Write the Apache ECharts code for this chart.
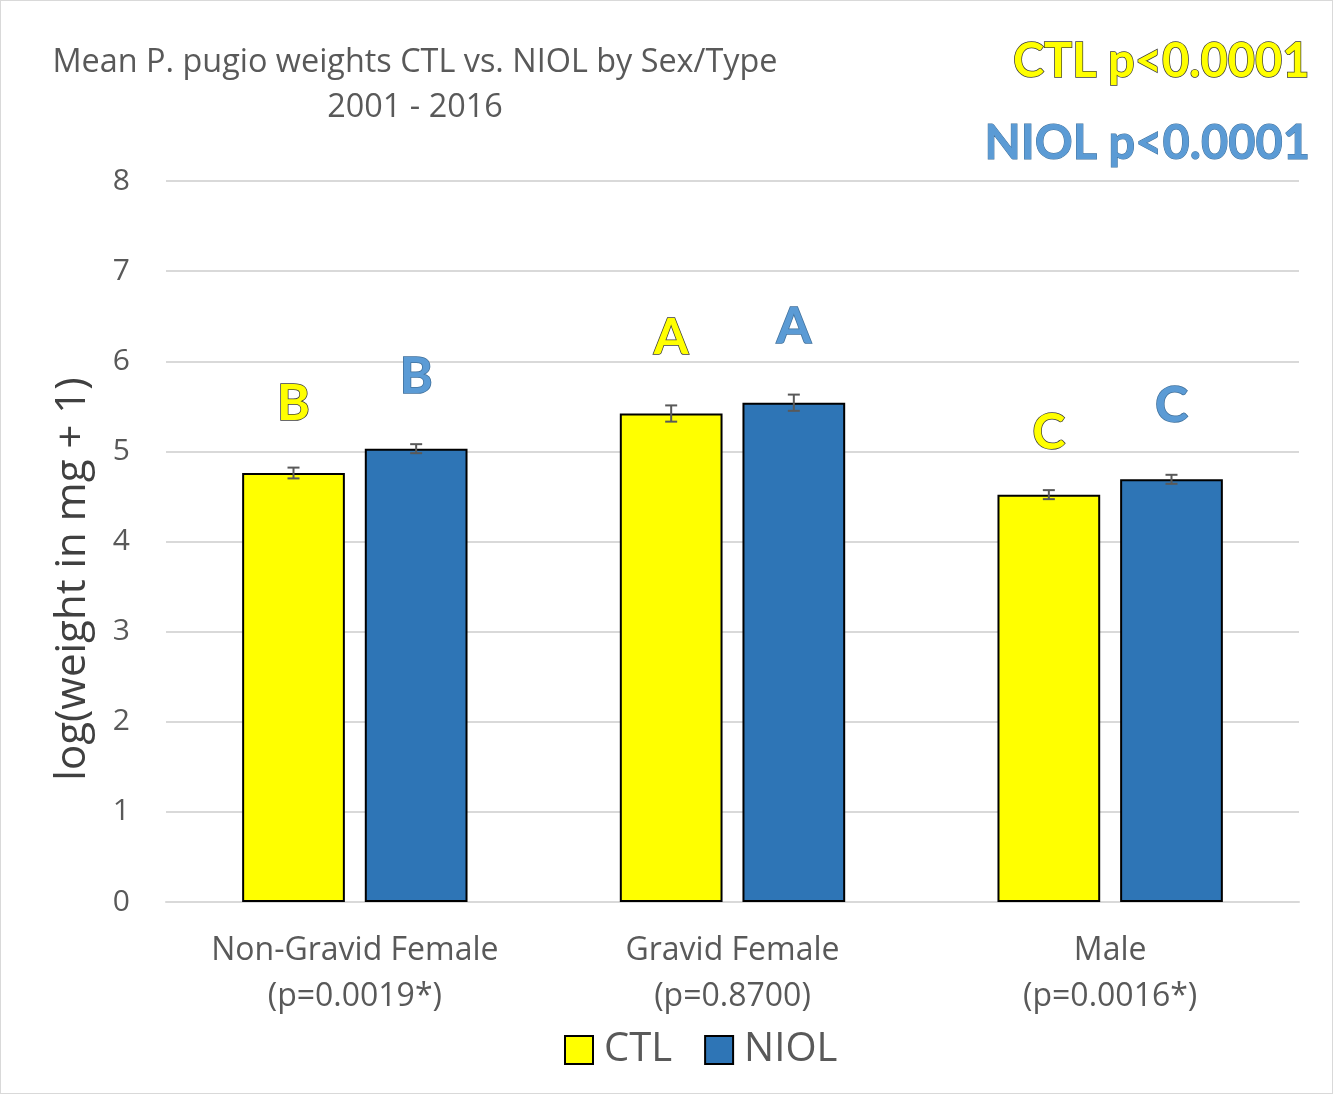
<!DOCTYPE html>
<html><head><meta charset="utf-8">
<script src="https://cdn.jsdelivr.net/npm/echarts@6/dist/echarts.min.js"></script>
<style>html,body{margin:0;padding:0;background:#fff}#c{width:1331px;height:1092px;border:1px solid #d9d9d9}</style>
</head><body><div id="c"></div>
<script>
const categories = ['Non-Gravid Female\n(p=0.0019*)', 'Gravid Female\n(p=0.8700)', 'Male\n(p=0.0016*)'];
const ctlValues = [4.76, 5.42, 4.52];
const niolValues = [5.03, 5.54, 4.69];
const ctlErr = [0.06, 0.09, 0.05];
const niolErr = [0.05, 0.09, 0.05];
const ctlLetters = ['B', 'A', 'C'];
const niolLetters = ['B', 'A', 'C'];
const ctlLetterY = [5.53, 6.26, 5.21];
const niolLetterY = [5.83, 6.38, 5.50];
const yTicks = [0, 1, 2, 3, 4, 5, 6, 7, 8];

const BAR_W = 0.272, GAP = 0.194;
function barCenter(api, cat, side) {
  const band = api.size([1, 0])[0];
  const w = band * BAR_W, g = w * GAP;
  const cx = api.coord([cat, 0])[0];
  return cx + side * (g / 2 + w / 2);
}
function errSeries(vals, errs, side) {
  return {
    type: 'custom', z: 5,
    data: vals.map((v, i) => [i, v, errs[i]]),
    renderItem: function (params, api) {
      const cat = api.value(0), v = api.value(1), e = api.value(2);
      const x = barCenter(api, cat, side);
      const y1 = api.coord([cat, v + e])[1], y2 = api.coord([cat, v - e])[1];
      const st = { stroke: '#595959', lineWidth: 2 };
      return { type: 'group', children: [
        { type: 'line', shape: { x1: x, y1: y1, x2: x, y2: y2 }, style: st },
        { type: 'line', shape: { x1: x - 6, y1: y1, x2: x + 6, y2: y1 }, style: st },
        { type: 'line', shape: { x1: x - 6, y1: y2, x2: x + 6, y2: y2 }, style: st }
      ] };
    }
  };
}
function letterSeries(letters, ys, side, fill, stroke) {
  return {
    type: 'custom', z: 6,
    data: ys.map((y, i) => [i, y, letters[i]]),
    renderItem: function (params, api) {
      const cat = api.value(0), y = api.value(1);
      const x = barCenter(api, cat, side);
      const py = api.coord([cat, y])[1];
      return { type: 'text', x: x, y: py, style: {
        text: letters[params.dataIndex], fill: fill, stroke: stroke, lineWidth: 1.5,
        font: 'bold 50px Lato, "Open Sans", sans-serif', align: 'center', verticalAlign: 'middle'
      } };
    }
  };
}

const chart = echarts.init(document.getElementById('c'));
chart.setOption({
  animation: false,
  title: [{
    text: 'Mean P. pugio weights CTL vs. NIOL by Sex/Type\n2001 - 2016',
    left: 409, top: 34, textAlign: 'center',
    textStyle: { fontFamily: '"Open Sans", sans-serif', fontWeight: 'normal', fontSize: 32.4, color: '#595959', lineHeight: 45 }
  }, {
    text: 'CTL p<0.0001', right: 16, top: 32,
    textStyle: { fontFamily: 'Lato, sans-serif', fontWeight: 'bold', fontSize: 47, color: '#FFFF00', textBorderColor: '#3a3a3a', textBorderWidth: 1.5 }
  }, {
    text: 'NIOL p<0.0001', right: 16, top: 114,
    textStyle: { fontFamily: 'Lato, sans-serif', fontWeight: 'bold', fontSize: 47, color: '#5B9BD5', textBorderColor: '#41719C', textBorderWidth: 1 }
  }],
  legend: {
    bottom: 18, left: 558, itemWidth: 28, itemHeight: 28, itemGap: 32, icon: 'rect',
    data: ['CTL', 'NIOL'],
    textStyle: { fontFamily: '"Open Sans", sans-serif', fontSize: 40, color: '#595959', padding: [0, 0, 0, 6] }
  },
  graphic: [{
    type: 'text', x: 72, y: 578, rotation: Math.PI / 2,
    style: { text: 'log(weight in mg + 1)', font: '42px "Open Sans", sans-serif', fill: '#404040', align: 'center', verticalAlign: 'middle' }
  }],
  grid: { left: 165, right: 33, top: 180, bottom: 191 },
  xAxis: {
    type: 'category', data: categories,
    axisLine: { lineStyle: { color: '#d9d9d9', width: 2 } }, axisTick: { show: false },
    axisLabel: { fontFamily: '"Open Sans", sans-serif', fontSize: 32, color: '#595959', lineHeight: 46, margin: 26 }
  },
  yAxis: {
    type: 'value', min: 0, max: 8, interval: 1,
    axisLabel: { fontFamily: '"Open Sans", sans-serif', fontSize: 30, color: '#595959', margin: 36,
      formatter: v => yTicks.includes(v) ? String(v) : '' },
    splitLine: { lineStyle: { color: '#d9d9d9', width: 2 } },
    axisLine: { show: false }, axisTick: { show: false }
  },
  series: [
    { name: 'CTL', type: 'bar', data: ctlValues, barWidth: (BAR_W * 100) + '%', barGap: (GAP * 100) + '%',
      itemStyle: { color: '#FFFF00', borderColor: '#000', borderWidth: 2 } },
    { name: 'NIOL', type: 'bar', data: niolValues, barWidth: (BAR_W * 100) + '%', barGap: (GAP * 100) + '%',
      itemStyle: { color: '#2E75B6', borderColor: '#000', borderWidth: 2 } },
    errSeries(ctlValues, ctlErr, -1),
    errSeries(niolValues, niolErr, 1),
    letterSeries(ctlLetters, ctlLetterY, -1, '#FFFF00', '#3a3a3a'),
    letterSeries(niolLetters, niolLetterY, 1, '#5B9BD5', '#41719C')
  ]
});
</script></body></html>
